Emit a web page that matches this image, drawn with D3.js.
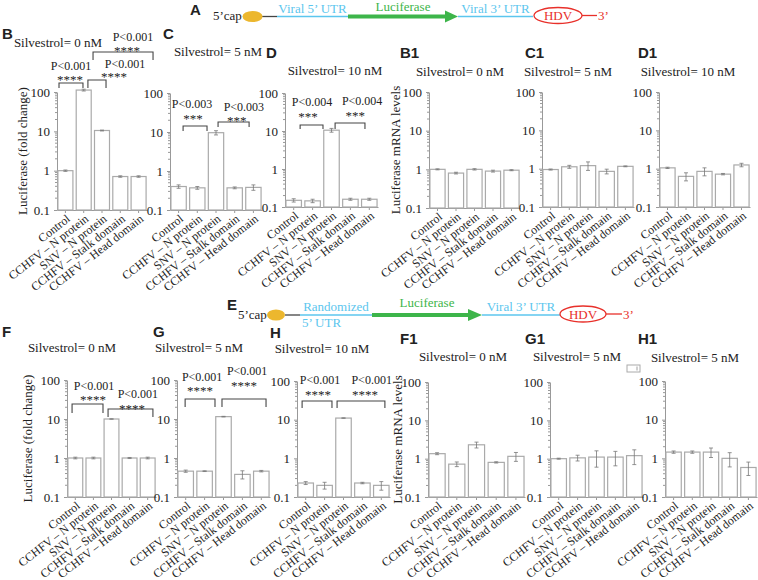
<!DOCTYPE html>
<html>
<head>
<meta charset="utf-8">
<script src="https://cdn.jsdelivr.net/npm/d3@7"></script>
<style>
  body { margin: 0; background: #fff; }
  svg text { font-family: "Liberation Serif", "Times New Roman", serif; fill: #222; }
  svg text.letter { font-family: "Liberation Sans", Arial, sans-serif; font-weight: bold; }
</style>
</head>
<body>
<div id="chart"></div>
<script>
// ---- data ----
const categories = ["Control", "CCHFV – N protein", "SNV – N protein", "CCHFV – Stalk domain", "CCHFV – Head domain"];
const yTicks = [0.1, 1, 10, 100];
const yTickLabels = ["0.1", "1", "10", "100"];

const lucB = [1.0, 112, 10.5, 0.71, 0.71];
const lucBErr = [0.04, 6, 0.25, 0.03, 0.03];
const lucC = [0.40, 0.37, 9.6, 0.37, 0.38];
const lucCErr = [0.04, 0.03, 1.2, 0.02, 0.06];
const lucD = [0.15, 0.145, 10.5, 0.16, 0.16];
const lucDErr = [0.015, 0.015, 1.2, 0.01, 0.01];
const mrnaB1 = [1.0, 0.8, 1.0, 0.9, 0.95];
const mrnaB1Err = [0.03, 0.04, 0.04, 0.05, 0.03];
const mrnaC1 = [0.95, 1.12, 1.2, 0.85, 1.15];
const mrnaC1Err = [0.03, 0.1, 0.3, 0.12, 0.03];
const mrnaD1 = [1.05, 0.63, 0.85, 0.72, 1.25];
const mrnaD1Err = [0.04, 0.15, 0.2, 0.03, 0.13];

const lucF = [1.0, 1.0, 10, 1.0, 1.0];
const lucFErr = [0.05, 0.05, 0.1, 0.03, 0.05];
const lucG = [0.46, 0.46, 11.5, 0.38, 0.46];
const lucGErr = [0.03, 0.01, 0.2, 0.09, 0.02];
const lucH = [0.23, 0.2, 11, 0.23, 0.2];
const lucHErr = [0.02, 0.04, 0.1, 0.01, 0.05];
const mrnaF1 = [1.35, 0.72, 2.3, 0.8, 1.15];
const mrnaF1Err = [0.08, 0.1, 0.4, 0.03, 0.3];
const mrnaG1 = [1.0, 1.05, 1.1, 1.1, 1.2];
const mrnaG1Err = [0.03, 0.18, 0.5, 0.45, 0.5];
const mrnaH1 = [1.45, 1.45, 1.45, 1.0, 0.58];
const mrnaH1Err = [0.1, 0.1, 0.4, 0.4, 0.22];

const sigB = [["P<0.001", "****"], ["P<0.001", "****"], ["P<0.001", "****"]];
const sigC = [["P<0.003", "***"], ["P<0.003", "***"]];
const sigD = [["P<0.004", "***"], ["P<0.004", "***"]];
const sigF = [["P<0.001", "****"], ["P<0.001", "****"]];
const sigG = [["P<0.001", "****"], ["P<0.001", "****"]];
const sigH = [["P<0.001", "****"], ["P<0.001", "****"]];

const lucLabel = "Luciferase (fold change)";
const mrnaLabel = "Luciferase mRNA levels";

// ---- layout ----
const panels = [
  {letter: "B", title: "Silvestrol= 0 nM", values: lucB, errors: lucBErr, ylabel: lucLabel, sig: sigB,
   box: {x0: 57, x1: 147, yTop: 92, yBot: 210}, lx: 2, ly: 39, tx: 58, ty: 47, ylx: 22,
   br: [{a: 0.06, b: 1.37, top: 169, leg: 5, sx: 0.66, px: 0.72, sc: 6, pc: 17},
        {a: 1.64, b: 2.63, top: 202, leg: 8, sx: 3.07, px: 3.67, sc: 5, pc: 16},
        {a: 1.92, b: 5.2, top: 1040, leg: 8, sx: 3.78, px: 4.1, sc: 3, pc: 15}]},
  {letter: "C", title: "Silvestrol= 5 nM", values: lucC, errors: lucCErr, sig: sigC,
   box: {x0: 170, x1: 262, yTop: 93, yBot: 210}, lx: 163, ly: 39, tx: 218, ty: 56,
   br: [{a: 0.65, b: 1.93, top: 14.3, leg: 5, sx: 1.18, px: 1.13, sc: 9, pc: 22},
        {a: 2.52, b: 4.18, top: 18, leg: 5, sx: 3.52, px: 3.9, sc: 4, pc: 15}]},
  {letter: "D", title: "Silvestrol= 10 nM", values: lucD, errors: lucDErr, sig: sigD,
   box: {x0: 285, x1: 378, yTop: 93, yBot: 207}, lx: 266, ly: 58, tx: 335, ty: 75,
   br: [{a: 0.75, b: 1.96, top: 14.4, leg: 4, sx: 1.17, px: 1.38, sc: 10, pc: 23},
        {a: 2.6, b: 4.18, top: 16.2, leg: 6, sx: 3.66, px: 4.03, sc: 10, pc: 22}]},
  {letter: "B1", title: "Silvestrol= 0 nM", values: mrnaB1, errors: mrnaB1Err, ylabel: mrnaLabel,
   box: {x0: 429, x1: 520, yTop: 92, yBot: 208}, lx: 400, ly: 58, tx: 460, ty: 76, ylx: 395},
  {letter: "C1", title: "Silvestrol= 5 nM", values: mrnaC1, errors: mrnaC1Err,
   box: {x0: 542, x1: 634, yTop: 92, yBot: 207}, lx: 525, ly: 58, tx: 568, ty: 76},
  {letter: "D1", title: "Silvestrol= 10 nM", values: mrnaD1, errors: mrnaD1Err,
   box: {x0: 659, x1: 750, yTop: 92, yBot: 207}, lx: 638, ly: 58, tx: 688, ty: 76},
  {letter: "F", title: "Silvestrol= 0 nM", values: lucF, errors: lucFErr, ylabel: lucLabel, sig: sigF,
   box: {x0: 67, x1: 156, yTop: 380, yBot: 497}, lx: 2, ly: 337, tx: 72, ty: 352, ylx: 27,
   br: [{a: 0.23, b: 1.94, top: 24.3, leg: 9, sx: 1.39, px: 1.44, sc: 6, pc: 18},
        {a: 2.22, b: 4.7, top: 18, leg: 8, sx: 3.54, px: 3.87, sc: 3, pc: 15}]},
  {letter: "G", title: "Silvestrol= 5 nM", values: lucG, errors: lucGErr, sig: sigG,
   box: {x0: 177, x1: 270, yTop: 380, yBot: 497}, lx: 153, ly: 337, tx: 199, ty: 352,
   br: [{a: 0.38, b: 1.96, top: 32.6, leg: 8, sx: 1.17, px: 1.28, sc: 10, pc: 22},
        {a: 2.33, b: 4.66, top: 32.6, leg: 8, sx: 3.5, px: 3.66, sc: 15, pc: 28}]},
  {letter: "H", title: "Silvestrol= 10 nM", values: lucH, errors: lucHErr, sig: sigH,
   box: {x0: 297, x1: 390, yTop: 381, yBot: 497}, lx: 270, ly: 338, tx: 322, ty: 353,
   br: [{a: 0.22, b: 1.8, top: 30.4, leg: 7, sx: 1.06, px: 1.17, sc: 8, pc: 21},
        {a: 2.07, b: 4.6, top: 30.4, leg: 7, sx: 3.55, px: 3.9, sc: 8, pc: 21}]},
  {letter: "F1", title: "Silvestrol= 0 nM", values: mrnaF1, errors: mrnaF1Err, ylabel: mrnaLabel,
   box: {x0: 428, x1: 525, yTop: 382, yBot: 497}, lx: 400, ly: 344, tx: 463, ty: 361, ylx: 397},
  {letter: "G1", title: "Silvestrol= 5 nM", values: mrnaG1, errors: mrnaG1Err,
   box: {x0: 550, x1: 643, yTop: 382, yBot: 497}, lx: 525, ly: 344, tx: 577, ty: 361},
  {letter: "H1", title: "Silvestrol= 5 nM", values: mrnaH1, errors: mrnaH1Err,
   box: {x0: 665, x1: 757, yTop: 381, yBot: 497}, lx: 638, ly: 344, tx: 695, ty: 362}
];

const axisColor = "#999";
const barStroke = "#aaa";
const errColor = "#777";

const svg = d3.select("#chart").append("svg")
  .attr("width", 758)
  .attr("height", 580);

panels.forEach(drawPanel);
drawConstruct(0);
drawConstruct(1);

function drawPanel(p) {
  const b = p.box;
  const x = d3.scaleBand().domain(categories).range([b.x0, b.x1]).paddingInner(0.18).paddingOuter(0.05);
  const y = d3.scaleLog().domain([0.1, 100]).range([b.yBot, b.yTop]);
  const g = svg.append("g");

  // letter + title
  g.append("text").attr("class", "letter").attr("x", p.lx).attr("y", p.ly)
    .attr("font-size", 15).text(p.letter);
  g.append("text").attr("x", p.tx).attr("y", p.ty).attr("text-anchor", "middle")
    .attr("font-size", 13).text(p.title);

  // y axis with minor log ticks
  const ya = g.append("g").attr("transform", `translate(${b.x0},0)`)
    .call(d3.axisLeft(y).tickValues(yTicks).tickFormat((d, i) => yTickLabels[i])
      .tickSize(3).tickSizeOuter(0).tickPadding(4));
  const minor = [];
  [0.1, 1, 10].forEach(dec => d3.range(2, 10).forEach(k => minor.push(dec * k)));
  ya.selectAll(".minor").data(minor).enter().append("line")
    .attr("class", "minor").attr("x1", -2).attr("x2", 0)
    .attr("y1", d => y(d)).attr("y2", d => y(d)).attr("stroke", axisColor);

  // x axis
  const xa = g.append("g").attr("transform", `translate(0,${b.yBot})`)
    .call(d3.axisBottom(x).tickSize(3).tickSizeOuter(0));

  [ya, xa].forEach(a => {
    a.attr("font-family", null).attr("font-size", null);
    a.selectAll("path, line").attr("stroke", axisColor);
    a.selectAll("text").attr("fill", "#222").attr("font-size", 13);
  });
  xa.selectAll("text")
    .attr("font-size", 12)
    .attr("text-anchor", "end")
    .attr("y", 0)
    .attr("dy", "0.35em")
    .attr("transform", "translate(3,7) rotate(-38)");

  if (p.ylabel) {
    const cy = (b.yTop + b.yBot) / 2;
    g.append("text").attr("transform", `translate(${p.ylx},${cy}) rotate(-90)`)
      .attr("text-anchor", "middle").attr("dy", "0.35em")
      .attr("font-size", 13).text(p.ylabel);
  }

  // bars
  const rows = categories.map((c, i) => ({c, v: p.values[i], e: p.errors[i]}));
  g.selectAll(".bar").data(rows).enter().append("rect")
    .attr("class", "bar")
    .attr("x", d => x(d.c))
    .attr("y", d => y(d.v))
    .attr("width", x.bandwidth())
    .attr("height", d => b.yBot - y(d.v))
    .attr("fill", "#fff")
    .attr("stroke", barStroke)
    .attr("stroke-width", 1.2);

  // error bars
  const eb = g.selectAll(".err").data(rows).enter().append("g").attr("class", "err")
    .attr("stroke", errColor).attr("stroke-width", 0.8);
  const cx = d => x(d.c) + x.bandwidth() / 2;
  eb.append("line").attr("x1", cx).attr("x2", cx)
    .attr("y1", d => y(d.v - d.e)).attr("y2", d => y(d.v + d.e));
  eb.append("line").attr("x1", d => cx(d) - 2).attr("x2", d => cx(d) + 2)
    .attr("y1", d => y(d.v + d.e)).attr("y2", d => y(d.v + d.e));
  eb.append("line").attr("x1", d => cx(d) - 2).attr("x2", d => cx(d) + 2)
    .attr("y1", d => y(d.v - d.e)).attr("y2", d => y(d.v - d.e));

  // significance brackets
  if (p.br) {
    const u0 = x(categories[0]);
    const pos = u => u0 + u * x.step();
    p.br.forEach((br, i) => {
      const yt = y(br.top);
      g.append("path")
        .attr("d", `M${pos(br.a)},${yt + br.leg}V${yt}H${pos(br.b)}V${yt + br.leg}`)
        .attr("fill", "none").attr("stroke", "#444").attr("stroke-width", 1.1);
      g.append("text").attr("x", pos(br.sx)).attr("y", yt - br.sc + 6.5)
        .attr("text-anchor", "middle").attr("font-size", 13).text(p.sig[i][1]);
      g.append("text").attr("x", pos(br.px)).attr("y", yt - br.pc + 4)
        .attr("text-anchor", "middle").attr("font-size", 12).text(p.sig[i][0]);
    });
  }
}

// ---- construct diagrams (A and E) ----
function drawConstruct(k) {
  const blue = "#5cc6ee", green = "#3db54a", red = "#e8302a", gold = "#ecb72e";
  const g = svg.append("g");
  const L = k === 0
    ? {letter: "A", lx: 190, ly: 15, y: 16.5, capX: 213, ell: 252.5, erx: 10, d0: 262, d1: 277,
       b0: 277, b1: 348, g1: 445, tip: 458, v0: 458, v1: 533, hdv: 558, hrx: 24, r1: 597}
    : {letter: "E", lx: 227, ly: 310, y: 315, capX: 238, ell: 276, erx: 9, d0: 285, d1: 300,
       b0: 300, b1: 372, g1: 468, tip: 482, v0: 482, v1: 560, hdv: 583, hrx: 23, r1: 622};
  g.append("text").attr("class", "letter").attr("x", L.lx).attr("y", L.ly).attr("font-size", 15).text(L.letter);
  g.append("text").attr("x", L.capX).attr("y", L.y + 3.5).attr("font-size", 13).text("5’cap");
  g.append("line").attr("x1", L.d0).attr("x2", L.d1).attr("y1", L.y).attr("y2", L.y)
    .attr("stroke", "#444").attr("stroke-width", 1.3);
  g.append("ellipse").attr("cx", L.ell).attr("cy", L.y).attr("rx", L.erx).attr("ry", 5.5).attr("fill", gold);
  g.append("line").attr("x1", L.b0).attr("x2", L.b1).attr("y1", L.y).attr("y2", L.y)
    .attr("stroke", blue).attr("stroke-width", 1.5);
  g.append("line").attr("x1", L.b1).attr("x2", L.g1).attr("y1", L.y).attr("y2", L.y)
    .attr("stroke", green).attr("stroke-width", 4);
  g.append("path").attr("d", `M${L.g1},${L.y - 6}L${L.tip},${L.y}L${L.g1},${L.y + 6}Z`).attr("fill", green);
  g.append("line").attr("x1", L.v0).attr("x2", L.v1).attr("y1", L.y).attr("y2", L.y)
    .attr("stroke", blue).attr("stroke-width", 1.5);
  g.append("ellipse").attr("cx", L.hdv).attr("cy", L.y - 1).attr("rx", L.hrx).attr("ry", 8)
    .attr("fill", "#fff").attr("stroke", red).attr("stroke-width", 1.3);
  g.append("text").attr("x", L.hdv).attr("y", L.y + 3.5).attr("text-anchor", "middle")
    .attr("font-size", 13).style("fill", red).text("HDV");
  g.append("line").attr("x1", L.hdv + L.hrx).attr("x2", L.r1).attr("y1", L.y - 1).attr("y2", L.y - 1)
    .attr("stroke", red).attr("stroke-width", 1.3);
  g.append("text").attr("x", L.r1 + 1).attr("y", L.y + 3.5).attr("font-size", 13).style("fill", red).text("3’");

  g.append("text").attr("x", (L.b1 + L.tip) / 2).attr("y", L.y - (k === 0 ? 6 : 8)).attr("text-anchor", "middle")
    .attr("font-size", 13).style("fill", green).text("Luciferase");
  g.append("text").attr("x", (L.v0 + L.v1) / 2).attr("y", L.y - 4).attr("text-anchor", "middle")
    .attr("font-size", 13).style("fill", blue).text("Viral 3’ UTR");
  if (k === 0) {
    g.append("text").attr("x", (L.b0 + L.b1) / 2).attr("y", L.y - 4).attr("text-anchor", "middle")
      .attr("font-size", 13).style("fill", blue).text("Viral 5’ UTR");
  } else {
    g.append("text").attr("x", (L.b0 + L.b1) / 2).attr("y", L.y - 4).attr("text-anchor", "middle")
      .attr("font-size", 13).style("fill", blue).text("Randomized");
    g.append("text").attr("x", L.b0 + 2).attr("y", L.y + 12).attr("font-size", 13)
      .style("fill", blue).text("5’ UTR");
  }
}

// small legend box near G1/H1
svg.append("rect").attr("x", 627).attr("y", 365).attr("width", 13).attr("height", 7)
  .attr("fill", "#fff").attr("stroke", "#aaa");
svg.append("line").attr("x1", 637).attr("x2", 637).attr("y1", 366.5).attr("y2", 370.5)
  .attr("stroke", "#888").attr("stroke-width", 0.8);
</script>
</body>
</html>
